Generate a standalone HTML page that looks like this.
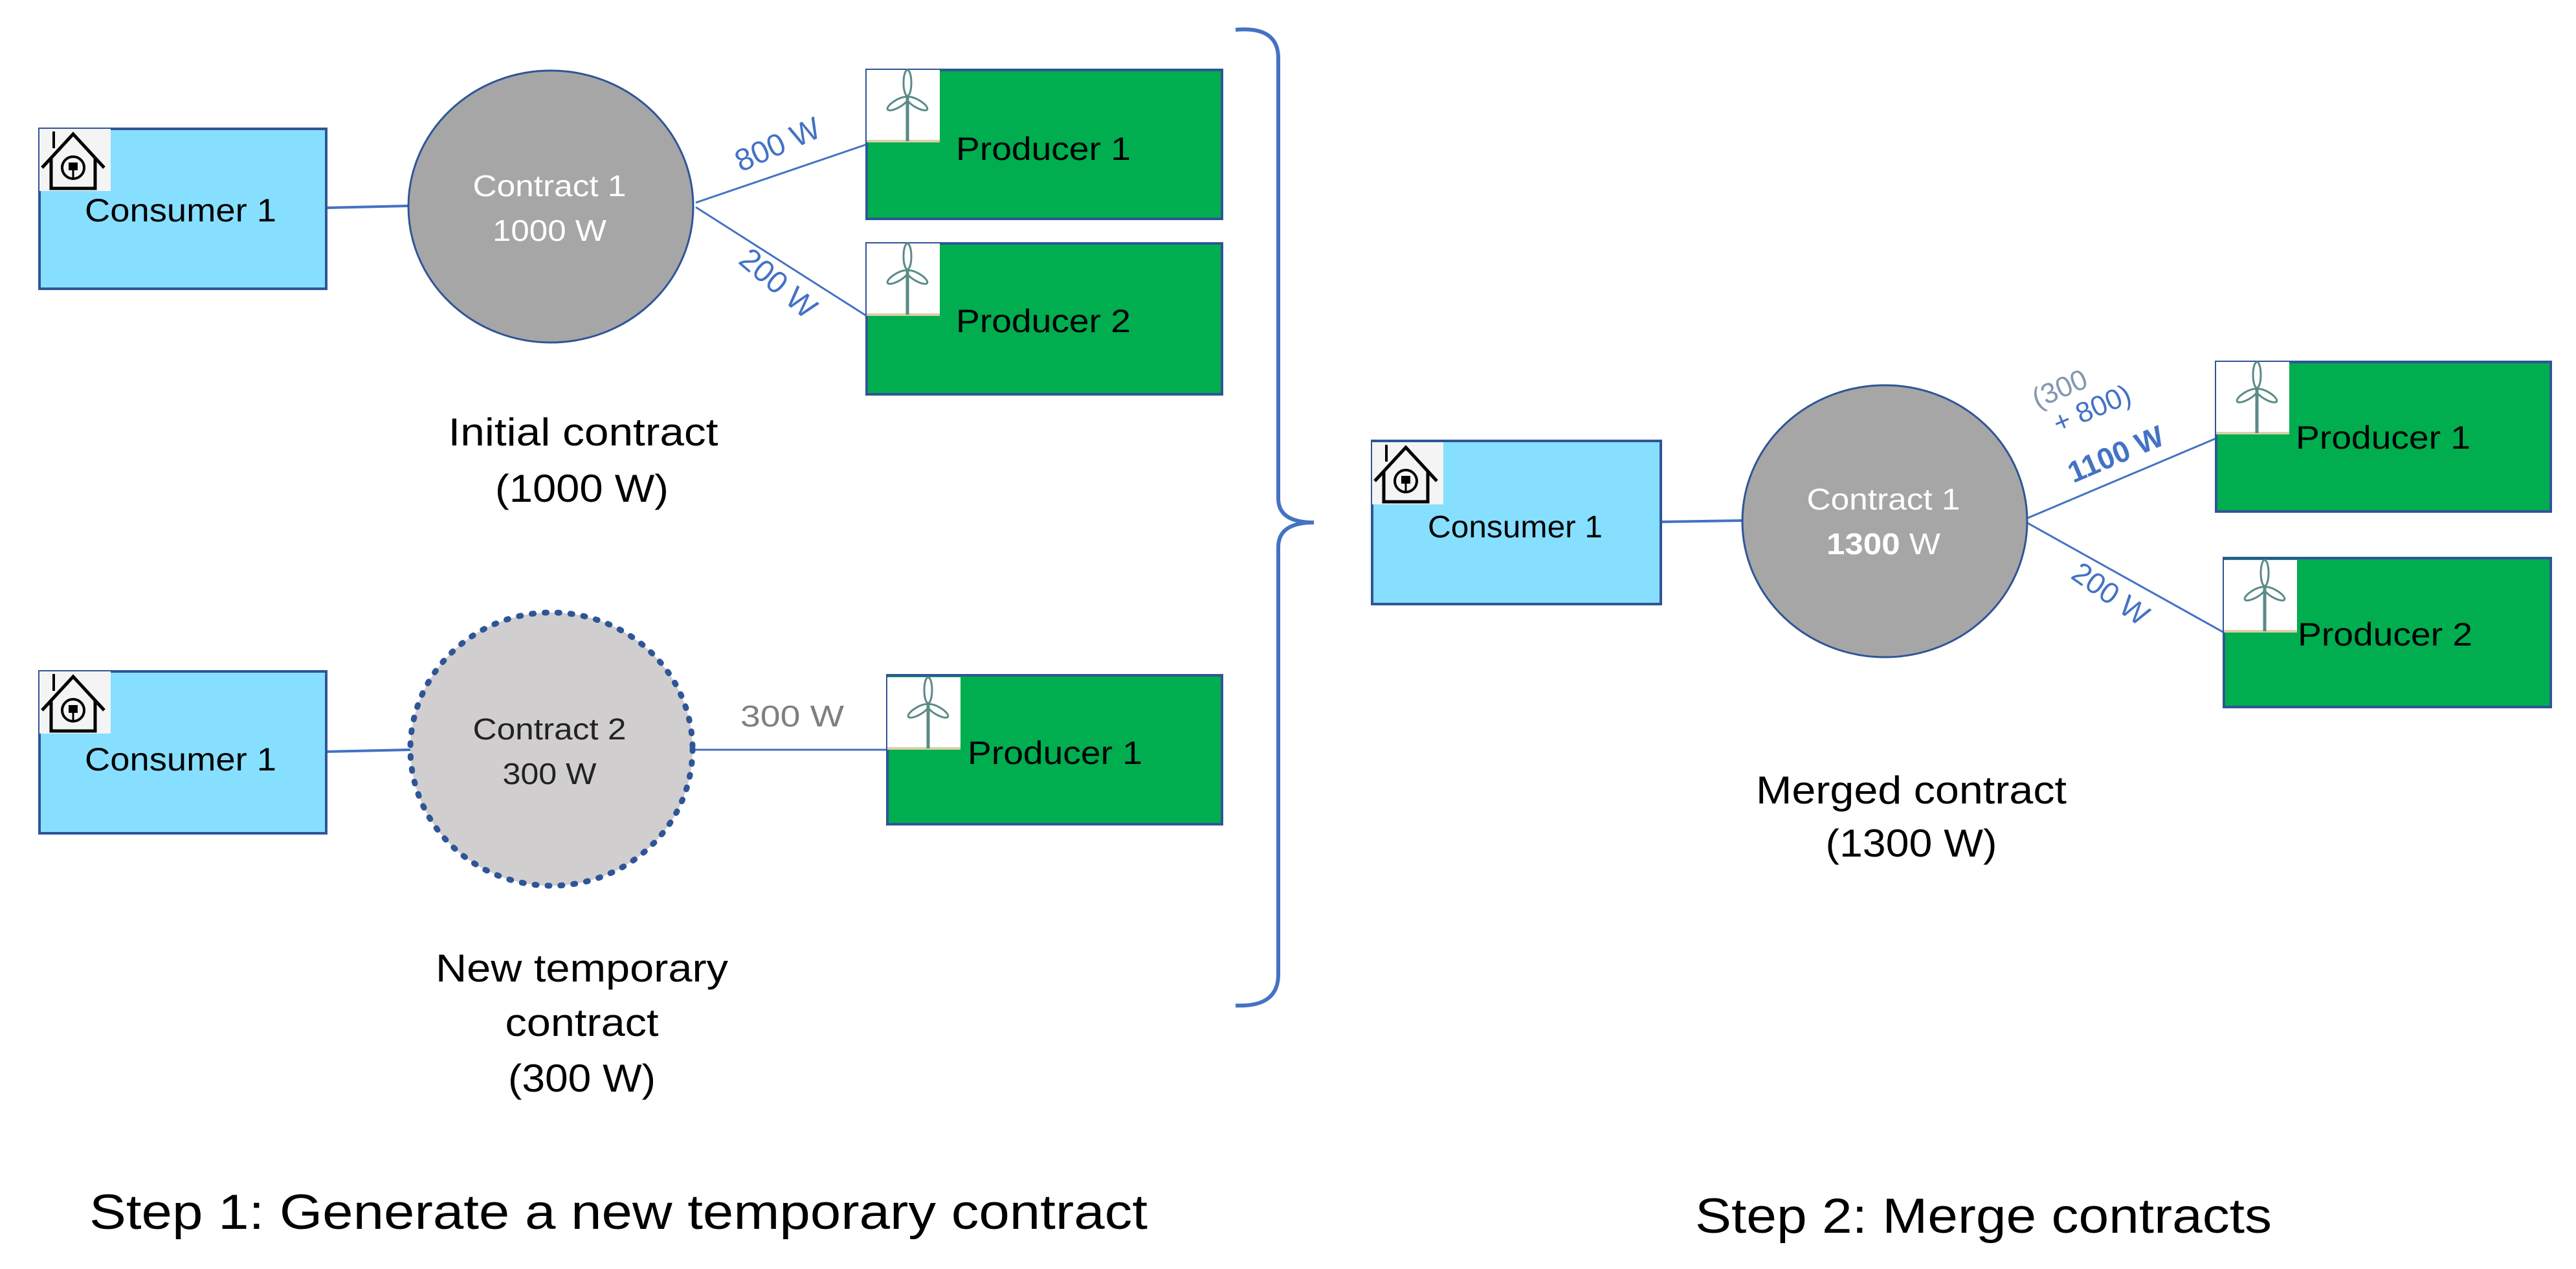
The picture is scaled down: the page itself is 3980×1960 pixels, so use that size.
<!DOCTYPE html>
<html><head><meta charset="utf-8"><style>
html,body{margin:0;padding:0;background:#fff;}
svg{display:block;}
text{font-family:"Liberation Sans",sans-serif;}
</style></head><body>
<svg width="3980" height="1960" viewBox="0 0 3980 1960" xmlns="http://www.w3.org/2000/svg">
<defs>
  <g id="house">
    <rect x="0" y="0" width="110" height="96" fill="#f4f4f4"/>
    <path d="M4 60 L52 8 L100 60" fill="none" stroke="#000" stroke-width="5"/>
    <path d="M18 46 L18 92 L86 92 L86 46" fill="none" stroke="#000" stroke-width="5"/>
    <line x1="22" y1="4" x2="22" y2="30" stroke="#000" stroke-width="4"/>
    <circle cx="52" cy="60" r="17" fill="none" stroke="#000" stroke-width="4"/>
    <rect x="45" y="52" width="14" height="12" fill="#000"/>
    <line x1="52" y1="64" x2="52" y2="76" stroke="#000" stroke-width="3"/>
  </g>
  <g id="turb">
    <rect x="0" y="0" width="113" height="112" fill="#fff"/>
    <line x1="0" y1="110" x2="113" y2="110" stroke="#d8cfa8" stroke-width="4"/>
    <line x1="63" y1="40" x2="63" y2="110" stroke="#5a8a86" stroke-width="5"/>
    <ellipse cx="63" cy="20" rx="6" ry="20" fill="none" stroke="#5a8a86" stroke-width="3"/>
    <ellipse cx="48" cy="52" rx="6" ry="18" transform="rotate(60 48 52)" fill="none" stroke="#5a8a86" stroke-width="3"/>
    <ellipse cx="78" cy="52" rx="6" ry="18" transform="rotate(-60 78 52)" fill="none" stroke="#5a8a86" stroke-width="3"/>
  </g>
</defs>

<!-- Bracket -->
<path d="M1909 46 Q1975 40 1975 90 L1975 770 Q1975 807 2030 807 Q1975 807 1975 845 L1975 1505 Q1975 1556 1909 1553" fill="none" stroke="#4472C4" stroke-width="6"/>

<!-- ===== Initial contract ===== -->
<line x1="504" y1="321" x2="631" y2="318" stroke="#4472C4" stroke-width="4"/>
<line x1="1075" y1="313" x2="1339" y2="223" stroke="#4472C4" stroke-width="3"/>
<line x1="1075" y1="320" x2="1339" y2="488" stroke="#4472C4" stroke-width="3"/>
<rect x="61" y="199" width="443" height="247" fill="#87DFFF" stroke="#2F5597" stroke-width="4"/>
<use href="#house" x="61" y="199"/>
<text x="279" y="342" font-size="50" text-anchor="middle" textLength="296" lengthAdjust="spacingAndGlyphs">Consumer 1</text>
<ellipse cx="851" cy="319" rx="220" ry="210" fill="#A6A6A6" stroke="#2F5597" stroke-width="3"/>
<text x="849" y="303" font-size="46" fill="#fff" text-anchor="middle" textLength="237" lengthAdjust="spacingAndGlyphs">Contract 1</text>
<text x="849" y="372" font-size="46" fill="#fff" text-anchor="middle" textLength="176" lengthAdjust="spacingAndGlyphs">1000 W</text>
<rect x="1339" y="108" width="549" height="230" fill="#00AD4F" stroke="#2F5597" stroke-width="4"/>
<use href="#turb" x="1339" y="108"/>
<text x="1477" y="247" font-size="50" textLength="270" lengthAdjust="spacingAndGlyphs">Producer 1</text>
<rect x="1339" y="376" width="549" height="233" fill="#00AD4F" stroke="#2F5597" stroke-width="4"/>
<use href="#turb" x="1339" y="376"/>
<text x="1477" y="513" font-size="50" textLength="270" lengthAdjust="spacingAndGlyphs">Producer 2</text>
<text x="0" y="0" font-size="48" fill="#4472C4" text-anchor="middle" transform="translate(1208,238) rotate(-24)">800 W</text>
<text x="0" y="0" font-size="48" fill="#4472C4" text-anchor="middle" transform="translate(1192,450) rotate(40)">200 W</text>
<text x="901" y="688" font-size="60" text-anchor="middle" textLength="417" lengthAdjust="spacingAndGlyphs">Initial contract</text>
<text x="899" y="775" font-size="60" text-anchor="middle" textLength="268" lengthAdjust="spacingAndGlyphs">(1000 W)</text>

<!-- ===== Temporary contract ===== -->
<line x1="504" y1="1161" x2="634" y2="1158" stroke="#4472C4" stroke-width="4"/>
<line x1="1071" y1="1158" x2="1371" y2="1158" stroke="#4472C4" stroke-width="3"/>
<rect x="61" y="1037" width="443" height="250" fill="#87DFFF" stroke="#2F5597" stroke-width="4"/>
<use href="#house" x="61" y="1037"/>
<text x="279" y="1190" font-size="50" text-anchor="middle" textLength="296" lengthAdjust="spacingAndGlyphs">Consumer 1</text>
<ellipse cx="852" cy="1157" rx="218" ry="211" fill="#D0CECE" stroke="#2F5597" stroke-width="9" stroke-dasharray="3 17" stroke-linecap="round"/>
<text x="849" y="1142" font-size="46" fill="#222" text-anchor="middle" textLength="237" lengthAdjust="spacingAndGlyphs">Contract 2</text>
<text x="849" y="1211" font-size="46" fill="#222" text-anchor="middle" textLength="145" lengthAdjust="spacingAndGlyphs">300 W</text>
<rect x="1371" y="1043" width="517" height="230" fill="#00AD4F" stroke="#2F5597" stroke-width="4"/>
<use href="#turb" x="1371" y="1046"/>
<text x="1495" y="1180" font-size="50" textLength="270" lengthAdjust="spacingAndGlyphs">Producer 1</text>
<text x="1224" y="1122" font-size="46" fill="#7F7F7F" text-anchor="middle" textLength="160" lengthAdjust="spacingAndGlyphs">300 W</text>
<text x="899" y="1516" font-size="60" text-anchor="middle" textLength="452" lengthAdjust="spacingAndGlyphs">New temporary</text>
<text x="899" y="1600" font-size="60" text-anchor="middle" textLength="237" lengthAdjust="spacingAndGlyphs">contract</text>
<text x="899" y="1686" font-size="60" text-anchor="middle" textLength="228" lengthAdjust="spacingAndGlyphs">(300 W)</text>

<!-- ===== Merged contract ===== -->
<line x1="2566" y1="806" x2="2692" y2="804" stroke="#4472C4" stroke-width="4"/>
<line x1="3133" y1="800" x2="3424" y2="677" stroke="#4472C4" stroke-width="3"/>
<line x1="3133" y1="808" x2="3436" y2="977" stroke="#4472C4" stroke-width="3"/>
<rect x="2120" y="681" width="446" height="252" fill="#87DFFF" stroke="#2F5597" stroke-width="4"/>
<use href="#house" x="2120" y="683"/>
<text x="2341" y="830" font-size="48" text-anchor="middle" textLength="270" lengthAdjust="spacingAndGlyphs">Consumer 1</text>
<ellipse cx="2912" cy="805" rx="220" ry="210" fill="#A6A6A6" stroke="#2F5597" stroke-width="3"/>
<text x="2910" y="787" font-size="46" fill="#fff" text-anchor="middle" textLength="237" lengthAdjust="spacingAndGlyphs">Contract 1</text>
<text x="2910" y="856" font-size="46" fill="#fff" text-anchor="middle" textLength="176" lengthAdjust="spacingAndGlyphs"><tspan font-weight="bold">1300</tspan> W</text>
<rect x="3424" y="559" width="517" height="231" fill="#00AD4F" stroke="#2F5597" stroke-width="4"/>
<use href="#turb" x="3424" y="559"/>
<text x="3547" y="693" font-size="50" textLength="270" lengthAdjust="spacingAndGlyphs">Producer 1</text>
<rect x="3436" y="862" width="505" height="230" fill="#00AD4F" stroke="#2F5597" stroke-width="4"/>
<use href="#turb" x="3436" y="865"/>
<text x="3550" y="997" font-size="50" textLength="270" lengthAdjust="spacingAndGlyphs">Producer 2</text>
<text x="0" y="0" font-size="44" fill="#8497B0" text-anchor="middle" transform="translate(3188,614) rotate(-23)">(300</text>
<text x="0" y="0" font-size="44" fill="#4472C4" text-anchor="middle" transform="translate(3238,645) rotate(-23)">+ 800)</text>
<text x="0" y="0" font-size="46" font-weight="bold" fill="#4472C4" text-anchor="middle" transform="translate(3275,716) rotate(-23)">1100 W</text>
<text x="0" y="0" font-size="46" fill="#4472C4" text-anchor="middle" transform="translate(3252,930) rotate(35)">200 W</text>
<text x="2953" y="1241" font-size="60" text-anchor="middle" textLength="480" lengthAdjust="spacingAndGlyphs">Merged contract</text>
<text x="2953" y="1323" font-size="60" text-anchor="middle" textLength="265" lengthAdjust="spacingAndGlyphs">(1300 W)</text>

<!-- Step labels -->
<text x="138" y="1898" font-size="76" textLength="1635" lengthAdjust="spacingAndGlyphs">Step 1: Generate  a new temporary contract</text>
<text x="2619" y="1904" font-size="76" textLength="891" lengthAdjust="spacingAndGlyphs">Step 2: Merge contracts</text>
</svg>
</body></html>
